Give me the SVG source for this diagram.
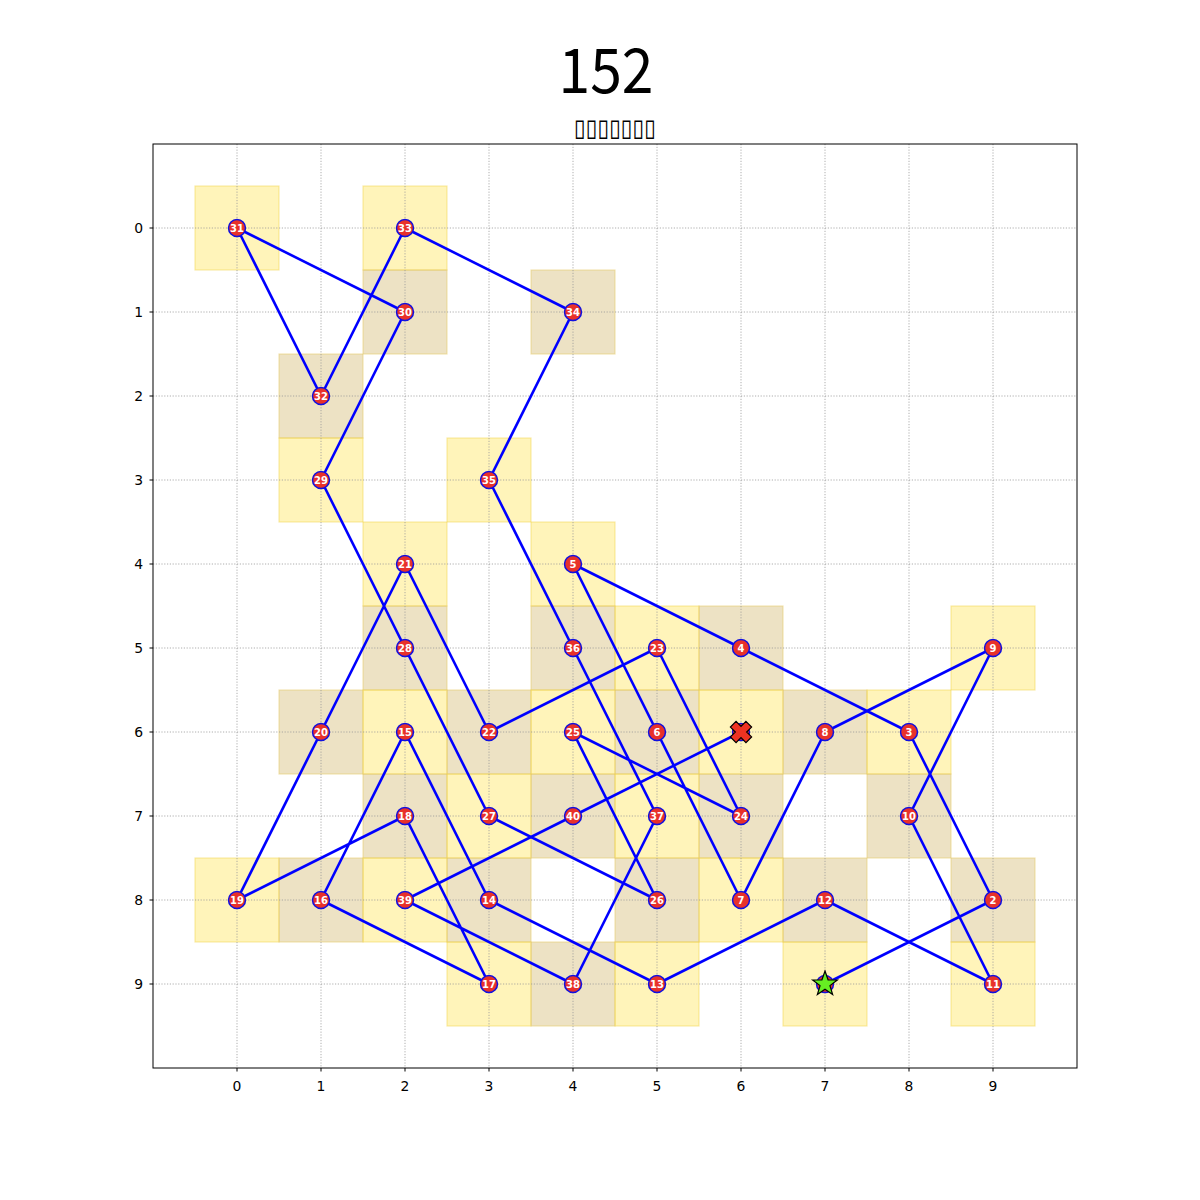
<svg xmlns="http://www.w3.org/2000/svg" width="1200" height="1200" viewBox="0 0 1200 1200">
<style>
.y{fill:#FFD700;fill-opacity:0.27;stroke:#F2D24A;stroke-opacity:0.45;stroke-width:1.2}
.t{fill:#C8A648;fill-opacity:0.32;stroke:#E8CC6A;stroke-opacity:0.5;stroke-width:1.2}
.g{stroke:#999;stroke-width:0.8;stroke-dasharray:1.2,1.6}
.tick{stroke:#000;stroke-width:1}
.tl{font-family:"DejaVu Sans",sans-serif;font-size:13.9px;fill:#000}
.n circle{fill:#E8312A;stroke:#1010E0;stroke-width:1.5}
.n text{font-family:"DejaVu Sans",sans-serif;font-weight:bold;font-size:10px;fill:#fff;text-anchor:middle;dominant-baseline:central}
.e{fill:none;stroke:#0000FF;stroke-width:2.6;stroke-linejoin:round}
</style>
<rect x="0" y="0" width="1200" height="1200" fill="#fff"/>
<text x="606" y="93" font-family="'Noto Sans CJK SC','Noto Sans',sans-serif" font-size="62" text-anchor="middle" textLength="95" lengthAdjust="spacingAndGlyphs">152</text>
<text x="615" y="136" font-family="'DejaVu Sans',sans-serif" font-size="24" text-anchor="middle" textLength="82" lengthAdjust="spacingAndGlyphs">▯▯▯▯▯▯▯</text>
<g id="cells">
<rect class="y" x="195" y="186" width="84" height="84"/>
<rect class="y" x="363" y="186" width="84" height="84"/>
<rect class="t" x="363" y="270" width="84" height="84"/>
<rect class="t" x="531" y="270" width="84" height="84"/>
<rect class="t" x="279" y="354" width="84" height="84"/>
<rect class="y" x="279" y="438" width="84" height="84"/>
<rect class="y" x="447" y="438" width="84" height="84"/>
<rect class="y" x="363" y="522" width="84" height="84"/>
<rect class="y" x="531" y="522" width="84" height="84"/>
<rect class="t" x="363" y="606" width="84" height="84"/>
<rect class="t" x="531" y="606" width="84" height="84"/>
<rect class="y" x="615" y="606" width="84" height="84"/>
<rect class="t" x="699" y="606" width="84" height="84"/>
<rect class="y" x="951" y="606" width="84" height="84"/>
<rect class="t" x="279" y="690" width="84" height="84"/>
<rect class="y" x="363" y="690" width="84" height="84"/>
<rect class="t" x="447" y="690" width="84" height="84"/>
<rect class="y" x="531" y="690" width="84" height="84"/>
<rect class="t" x="615" y="690" width="84" height="84"/>
<rect class="y" x="699" y="690" width="84" height="84"/>
<rect class="t" x="783" y="690" width="84" height="84"/>
<rect class="y" x="867" y="690" width="84" height="84"/>
<rect class="t" x="363" y="774" width="84" height="84"/>
<rect class="y" x="447" y="774" width="84" height="84"/>
<rect class="t" x="531" y="774" width="84" height="84"/>
<rect class="y" x="615" y="774" width="84" height="84"/>
<rect class="t" x="699" y="774" width="84" height="84"/>
<rect class="t" x="867" y="774" width="84" height="84"/>
<rect class="y" x="195" y="858" width="84" height="84"/>
<rect class="t" x="279" y="858" width="84" height="84"/>
<rect class="y" x="363" y="858" width="84" height="84"/>
<rect class="t" x="447" y="858" width="84" height="84"/>
<rect class="t" x="615" y="858" width="84" height="84"/>
<rect class="y" x="699" y="858" width="84" height="84"/>
<rect class="t" x="783" y="858" width="84" height="84"/>
<rect class="t" x="951" y="858" width="84" height="84"/>
<rect class="y" x="447" y="942" width="84" height="84"/>
<rect class="t" x="531" y="942" width="84" height="84"/>
<rect class="y" x="615" y="942" width="84" height="84"/>
<rect class="y" x="783" y="942" width="84" height="84"/>
<rect class="y" x="951" y="942" width="84" height="84"/>
</g>
<g id="grid" class="g">
<line x1="237" y1="144" x2="237" y2="1068"/><line x1="321" y1="144" x2="321" y2="1068"/><line x1="405" y1="144" x2="405" y2="1068"/><line x1="489" y1="144" x2="489" y2="1068"/><line x1="573" y1="144" x2="573" y2="1068"/><line x1="657" y1="144" x2="657" y2="1068"/><line x1="741" y1="144" x2="741" y2="1068"/><line x1="825" y1="144" x2="825" y2="1068"/><line x1="909" y1="144" x2="909" y2="1068"/><line x1="993" y1="144" x2="993" y2="1068"/>
<line x1="153" y1="228" x2="1077" y2="228"/><line x1="153" y1="312" x2="1077" y2="312"/><line x1="153" y1="396" x2="1077" y2="396"/><line x1="153" y1="480" x2="1077" y2="480"/><line x1="153" y1="564" x2="1077" y2="564"/><line x1="153" y1="648" x2="1077" y2="648"/><line x1="153" y1="732" x2="1077" y2="732"/><line x1="153" y1="816" x2="1077" y2="816"/><line x1="153" y1="900" x2="1077" y2="900"/><line x1="153" y1="984" x2="1077" y2="984"/>
</g>
<g id="axes">
<rect x="153" y="144" width="924" height="924" fill="none" stroke="#000" stroke-width="1"/>
<g class="tick">
<line x1="237" y1="1068" x2="237" y2="1071.5"/><line x1="321" y1="1068" x2="321" y2="1071.5"/><line x1="405" y1="1068" x2="405" y2="1071.5"/><line x1="489" y1="1068" x2="489" y2="1071.5"/><line x1="573" y1="1068" x2="573" y2="1071.5"/><line x1="657" y1="1068" x2="657" y2="1071.5"/><line x1="741" y1="1068" x2="741" y2="1071.5"/><line x1="825" y1="1068" x2="825" y2="1071.5"/><line x1="909" y1="1068" x2="909" y2="1071.5"/><line x1="993" y1="1068" x2="993" y2="1071.5"/>
<line x1="149.5" y1="228" x2="153" y2="228"/><line x1="149.5" y1="312" x2="153" y2="312"/><line x1="149.5" y1="396" x2="153" y2="396"/><line x1="149.5" y1="480" x2="153" y2="480"/><line x1="149.5" y1="564" x2="153" y2="564"/><line x1="149.5" y1="648" x2="153" y2="648"/><line x1="149.5" y1="732" x2="153" y2="732"/><line x1="149.5" y1="816" x2="153" y2="816"/><line x1="149.5" y1="900" x2="153" y2="900"/><line x1="149.5" y1="984" x2="153" y2="984"/>
</g>
<g class="tl" text-anchor="middle">
<text x="237" y="1091">0</text><text x="321" y="1091">1</text><text x="405" y="1091">2</text><text x="489" y="1091">3</text><text x="573" y="1091">4</text><text x="657" y="1091">5</text><text x="741" y="1091">6</text><text x="825" y="1091">7</text><text x="909" y="1091">8</text><text x="993" y="1091">9</text>
</g>
<g class="tl" text-anchor="end">
<text x="143" y="233">0</text><text x="143" y="317">1</text><text x="143" y="401">2</text><text x="143" y="485">3</text><text x="143" y="569">4</text><text x="143" y="653">5</text><text x="143" y="737">6</text><text x="143" y="821">7</text><text x="143" y="905">8</text><text x="143" y="989">9</text>
</g>
</g>
<g id="connectors">
<polyline class="e" points="825,984 993,900 909,732 741,648 573,564 657,732 741,900 825,732 993,648 909,816 993,984 825,900 657,984 489,900 405,732 321,900 489,984 405,816 237,900 321,732 405,564 489,732 657,648 741,816 573,732 657,900 489,816 405,648 321,480 405,312 237,228 321,396 405,228 573,312 489,480 573,648 657,816 573,984 405,900 573,816 741,732"/>
</g>
<g id="nodes" class="n">
<g id="n1"><circle cx="825" cy="984" r="8.5"/></g>
<g id="n2"><circle cx="993" cy="900" r="8.5"/><text x="993" y="900">2</text></g>
<g id="n3"><circle cx="909" cy="732" r="8.5"/><text x="909" y="732">3</text></g>
<g id="n4"><circle cx="741" cy="648" r="8.5"/><text x="741" y="648">4</text></g>
<g id="n5"><circle cx="573" cy="564" r="8.5"/><text x="573" y="564">5</text></g>
<g id="n6"><circle cx="657" cy="732" r="8.5"/><text x="657" y="732">6</text></g>
<g id="n7"><circle cx="741" cy="900" r="8.5"/><text x="741" y="900">7</text></g>
<g id="n8"><circle cx="825" cy="732" r="8.5"/><text x="825" y="732">8</text></g>
<g id="n9"><circle cx="993" cy="648" r="8.5"/><text x="993" y="648">9</text></g>
<g id="n10"><circle cx="909" cy="816" r="8.5"/><text x="909" y="816">10</text></g>
<g id="n11"><circle cx="993" cy="984" r="8.5"/><text x="993" y="984">11</text></g>
<g id="n12"><circle cx="825" cy="900" r="8.5"/><text x="825" y="900">12</text></g>
<g id="n13"><circle cx="657" cy="984" r="8.5"/><text x="657" y="984">13</text></g>
<g id="n14"><circle cx="489" cy="900" r="8.5"/><text x="489" y="900">14</text></g>
<g id="n15"><circle cx="405" cy="732" r="8.5"/><text x="405" y="732">15</text></g>
<g id="n16"><circle cx="321" cy="900" r="8.5"/><text x="321" y="900">16</text></g>
<g id="n17"><circle cx="489" cy="984" r="8.5"/><text x="489" y="984">17</text></g>
<g id="n18"><circle cx="405" cy="816" r="8.5"/><text x="405" y="816">18</text></g>
<g id="n19"><circle cx="237" cy="900" r="8.5"/><text x="237" y="900">19</text></g>
<g id="n20"><circle cx="321" cy="732" r="8.5"/><text x="321" y="732">20</text></g>
<g id="n21"><circle cx="405" cy="564" r="8.5"/><text x="405" y="564">21</text></g>
<g id="n22"><circle cx="489" cy="732" r="8.5"/><text x="489" y="732">22</text></g>
<g id="n23"><circle cx="657" cy="648" r="8.5"/><text x="657" y="648">23</text></g>
<g id="n24"><circle cx="741" cy="816" r="8.5"/><text x="741" y="816">24</text></g>
<g id="n25"><circle cx="573" cy="732" r="8.5"/><text x="573" y="732">25</text></g>
<g id="n26"><circle cx="657" cy="900" r="8.5"/><text x="657" y="900">26</text></g>
<g id="n27"><circle cx="489" cy="816" r="8.5"/><text x="489" y="816">27</text></g>
<g id="n28"><circle cx="405" cy="648" r="8.5"/><text x="405" y="648">28</text></g>
<g id="n29"><circle cx="321" cy="480" r="8.5"/><text x="321" y="480">29</text></g>
<g id="n30"><circle cx="405" cy="312" r="8.5"/><text x="405" y="312">30</text></g>
<g id="n31"><circle cx="237" cy="228" r="8.5"/><text x="237" y="228">31</text></g>
<g id="n32"><circle cx="321" cy="396" r="8.5"/><text x="321" y="396">32</text></g>
<g id="n33"><circle cx="405" cy="228" r="8.5"/><text x="405" y="228">33</text></g>
<g id="n34"><circle cx="573" cy="312" r="8.5"/><text x="573" y="312">34</text></g>
<g id="n35"><circle cx="489" cy="480" r="8.5"/><text x="489" y="480">35</text></g>
<g id="n36"><circle cx="573" cy="648" r="8.5"/><text x="573" y="648">36</text></g>
<g id="n37"><circle cx="657" cy="816" r="8.5"/><text x="657" y="816">37</text></g>
<g id="n38"><circle cx="573" cy="984" r="8.5"/><text x="573" y="984">38</text></g>
<g id="n39"><circle cx="405" cy="900" r="8.5"/><text x="405" y="900">39</text></g>
<g id="n40"><circle cx="573" cy="816" r="8.5"/><text x="573" y="816">40</text></g>
<g id="n41"><circle cx="741" cy="732" r="8.5"/></g>
</g>
<g id="markers">
<polygon transform="translate(825,984)" points="0,-13 3.06,-4.21 12.36,-4.02 4.95,1.61 7.64,10.52 0,5.2 -7.64,10.52 -4.95,1.61 -12.36,-4.02 -3.06,-4.21" fill="#66EE22" stroke="#000" stroke-width="1.2" stroke-linejoin="miter"/>
<polygon transform="translate(741,732) rotate(45)" points="-4,-11 4,-11 4,-4 11,-4 11,4 4,4 4,11 -4,11 -4,4 -11,4 -11,-4 -4,-4" fill="#EE3322" stroke="#000" stroke-width="1.2"/>
</g>
</svg>
